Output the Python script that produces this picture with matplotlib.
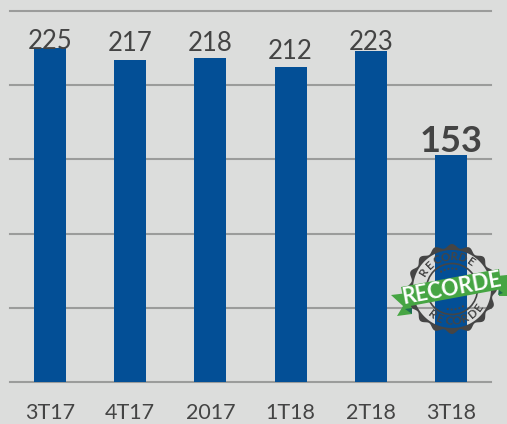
#!/usr/bin/env python3

import numpy as np
import matplotlib
matplotlib.use('Agg')
import matplotlib.pyplot as plt
from matplotlib.patches import Circle, Polygon, PathPatch
from matplotlib.path import Path

categories = ['3T17', '4T17', '2017', '1T18', '2T18', '3T18']
values = [225, 217, 218, 212, 223, 153]
# pixels between bar top and label baseline, the source places these by hand
label_gaps = [-1, 9, 7.5, 8, 1, 3]

BG = '#dcdddc'
BLUE = '#034f96'
GRID = '#9b9c9b'
TEXT = '#444444'
BADGE = '#454545'
GREEN = '#46a543'
W, H = 507, 424

plt.rcParams['font.family'] = ['Lato', 'DejaVu Sans']
fig = plt.figure(figsize=(W / 100, H / 100), dpi=100, facecolor=BG)
ax = fig.add_axes([10 / W, 1 - 382 / H, 481 / W, 371 / H], facecolor=BG)

ax.set_xlim(-0.5, 5.5)
ax.set_ylim(0, 250)
ax.set_yticks(range(0, 251, 50))
ax.set_xticks(range(len(categories)))
ax.set_xticklabels(categories, fontsize=15.5, color=TEXT)
ax.tick_params(axis='x', length=0, pad=15)
ax.tick_params(axis='y', length=0, labelleft=False)
ax.grid(axis='y', color=GRID, linewidth=1.5, zorder=1)
ax.set_axisbelow(True)
for spine in ax.spines.values():
    spine.set_visible(False)
for tick in ax.yaxis.get_gridlines():
    tick.set_clip_on(False)

ax.bar(range(len(values)), values, width=0.4, color=BLUE, zorder=2)

for i, (v, gap) in enumerate(zip(values, label_gaps)):
    bold = i == len(values) - 1
    ax.annotate(str(v), (i, v), xytext=(0, gap * 0.72), textcoords='offset points',
                ha='center', va='baseline', color=TEXT, zorder=3,
                fontsize=26 if bold else 18.5, fontweight='bold' if bold else 'normal')

# "recorde" stamp, drawn on a pixel overlay
ov = fig.add_axes([0, 0, 1, 1], facecolor='none')
ov.set_xlim(0, W)
ov.set_ylim(H, 0)
ov.axis('off')

cx, cy = 452, 289
t = np.linspace(0, 2 * np.pi, 361)
r = 43 + 2 * np.cos(16 * t)
outer = Path(np.column_stack([cx + r * np.cos(t), cy + r * np.sin(t)]))
inner = Path(np.column_stack([cx + 39 * np.cos(t[::-1]), cy + 39 * np.sin(t[::-1])]))
ov.add_patch(PathPatch(Path.make_compound_path(outer, inner), color=BADGE, lw=0, zorder=1))


def arc_text(word, mid_deg, radius, top):
    step = 15.5
    for j, ch in enumerate(word):
        off = (j - (len(word) - 1) / 2) * step
        ang = mid_deg + off if top else mid_deg - off
        rot = -ang - 90 if top else -ang + 90
        ov.text(cx + radius * np.cos(np.radians(ang)), cy + radius * np.sin(np.radians(ang)), ch,
                rotation=rot, rotation_mode='anchor', ha='center', va='center', fontsize=8.5,
                fontweight='bold', color=BADGE, zorder=4)


arc_text('RECORDE', -102, 32.5, True)
arc_text('RECORDE', 81, 32.5, False)
ov.add_patch(Circle((cx, cy), 25.5, fill=False, ec=BADGE, lw=1.2, zorder=4))
for deg in [-122, -111, -100, -89, -78, 58, 69, 80, 91, 102]:
    a = np.radians(deg)
    ov.add_patch(Circle((cx + 20.5 * np.cos(a), cy + 20.5 * np.sin(a)), 1.1, color=BADGE, lw=0, zorder=4))

# ribbon tails, then folds, then the band
ov.add_patch(Polygon([(391, 295), (408, 293), (412, 310), (412, 314), (397, 316), (403, 306)],
                     color=GREEN, lw=0, zorder=5))
ov.add_patch(Polygon([(497, 276), (507, 275), (507, 296), (499, 296)], color=GREEN, lw=0, zorder=5))
ov.add_patch(Polygon([(405, 309), (412, 308), (412, 314)], color='#1f6b52', lw=0, zorder=5.5))
ov.add_patch(Polygon([(499, 290), (503, 293), (498, 295)], color='#1f6b52', lw=0, zorder=5.5))
ov.add_patch(Polygon([(401, 287), (499, 269), (502, 289), (405, 307)], color=GREEN, lw=0, zorder=6))
ov.text(451.5, 288.5, 'RECORDE', rotation=10.5, rotation_mode='anchor', ha='center', va='center',
        fontsize=15.5, fontweight='bold', color='white', zorder=7)

fig.savefig('out.png', dpi=100, facecolor=BG)
